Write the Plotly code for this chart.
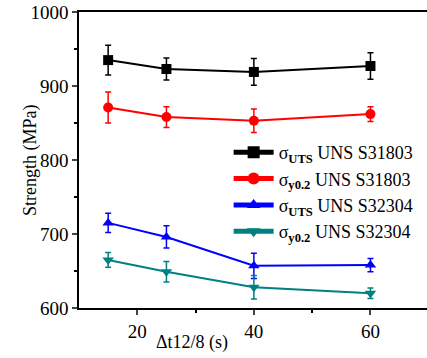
import plotly.graph_objects as go

x = [15, 25, 40, 60]
uts_s31803 = [935, 923, 919, 927]
uts_s31803_err = [20, 15, 18, 18]
y02_s31803 = [871, 858, 853, 862]
y02_s31803_err = [21, 14, 16, 10]
uts_s32304 = [715, 696, 657, 658]
uts_s32304_err = [13, 15, 17, 9]
y02_s32304 = [665, 649, 628, 620]
y02_s32304_err = [10, 14, 16, 7]

names = [
    "σ<sub><b>UTS</b></sub> UNS S31803",
    "σ<sub><b>y0.2</b></sub> UNS S31803",
    "σ<sub><b>UTS</b></sub> UNS S32304",
    "σ<sub><b>y0.2</b></sub> UNS S32304",
]
series = [uts_s31803, y02_s31803, uts_s32304, y02_s32304]
errs = [uts_s31803_err, y02_s31803_err, uts_s32304_err, y02_s32304_err]
colors = ["#000000", "#ff0000", "#0000ff", "#008080"]
symbols = ["square", "circle", "triangle-up", "triangle-down"]

fig = go.Figure()
for n, s, e, c, sym in zip(names, series, errs, colors, symbols):
    fig.add_trace(go.Scatter(
        x=x, y=s, name=n, mode="lines+markers",
        line=dict(color=c, width=2),
        marker=dict(symbol=sym, size=10, color=c),
        error_y=dict(type="data", array=e, visible=True, color=c, thickness=1.5, width=3),
    ))

font = "Liberation Serif, Times New Roman, DejaVu Serif, serif"
fig.update_layout(
    width=427, height=358,
    margin=dict(l=79, r=0, t=12, b=50),
    paper_bgcolor="white", plot_bgcolor="white",
    font=dict(family=font, size=18, color="black"),
    showlegend=True,
    legend=dict(x=0.43, y=0.588, xanchor="left", yanchor="top",
                bgcolor="rgba(0,0,0,0)", font=dict(size=18, family=font),
                tracegroupgap=0, itemwidth=40, itemsizing="constant"),
    xaxis=dict(
        range=[10, 69.7], tickvals=[20, 40, 60], ticks="outside", ticklen=5,
        tickwidth=1.5, linecolor="black", linewidth=1.5, mirror=True,
        showgrid=False, zeroline=False, tickfont=dict(size=19, family=font),
        minor=dict(tickvals=[30, 50], ticks="outside", ticklen=3, tickcolor="black", tickwidth=1.5),
    ),
    yaxis=dict(
        range=[600, 1000], dtick=100, ticks="outside", ticklen=5, tickwidth=1.5,
        linecolor="black", linewidth=1.5, showgrid=False, zeroline=False,
        tickfont=dict(size=19, family=font),
        minor=dict(dtick=50, ticks="outside", ticklen=3, tickcolor="black", tickwidth=1.5),
    ),
    annotations=[
        dict(text="Δt12/8 (s)", xref="paper", yref="paper", x=(192 - 79) / 348, y=-0.118,
             xanchor="center", yanchor="middle", showarrow=False, font=dict(size=18, family=font)),
        dict(text="Strength (MPa)", xref="paper", yref="paper", x=(30 - 79) / 348, y=0.5,
             xanchor="center", yanchor="middle", textangle=-90, showarrow=False,
             font=dict(size=18, family=font)),
    ],
)

fig.write_html("out.html")
